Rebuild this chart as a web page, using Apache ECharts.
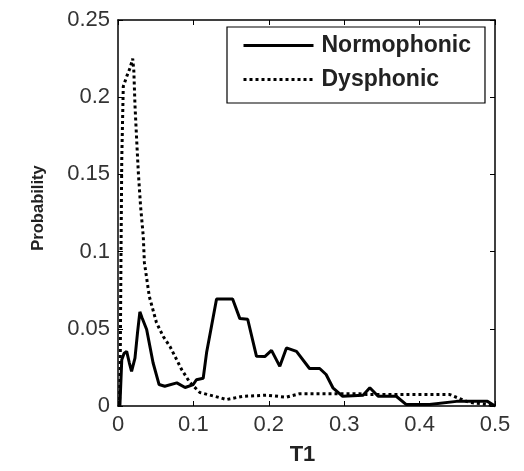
<!DOCTYPE html>
<html>
<head>
<meta charset="utf-8">
<script src="https://cdn.jsdelivr.net/npm/echarts@6/dist/echarts.min.js"></script>
<style>
html,body{margin:0;padding:0;background:#fff;}
#chart{width:524px;height:471px;}
</style>
</head>
<body>
<div id="chart"></div>
<script>
// T1 / Probability pairs
var normophonic = [
  [0.0025, 0.0], [0.005, 0.030], [0.008, 0.034], [0.0115, 0.0354], [0.015, 0.028],
  [0.018, 0.0225], [0.0225, 0.031], [0.026, 0.048], [0.029, 0.061], [0.032, 0.057],
  [0.038, 0.0495], [0.0465, 0.028], [0.0545, 0.0139], [0.062, 0.0128], [0.078, 0.015],
  [0.089, 0.012], [0.0998, 0.0139], [0.104, 0.017], [0.113, 0.018], [0.1175, 0.0346],
  [0.124, 0.0516], [0.1307, 0.0693], [0.152, 0.0693], [0.1616, 0.0566], [0.172, 0.0562],
  [0.1837, 0.0322], [0.1947, 0.032], [0.2036, 0.036], [0.2146, 0.0257], [0.2234, 0.0376],
  [0.2367, 0.0354], [0.254, 0.0243], [0.2675, 0.0243], [0.276, 0.0204], [0.285, 0.0118],
  [0.298, 0.0063], [0.325, 0.007], [0.334, 0.0118], [0.345, 0.0063], [0.369, 0.0063],
  [0.382, 0.001], [0.413, 0.001], [0.449, 0.003], [0.49, 0.003], [0.5, 0.0]
];
var dysphonic = [
  [0.002, 0.0], [0.003, 0.03], [0.004, 0.10], [0.005, 0.16], [0.007, 0.207],
  [0.012, 0.214], [0.016, 0.219], [0.0195, 0.225], [0.021, 0.217], [0.0225, 0.195],
  [0.025, 0.170], [0.027, 0.151], [0.030, 0.129], [0.0335, 0.110], [0.035, 0.093],
  [0.0415, 0.071], [0.051, 0.054], [0.060, 0.045], [0.069, 0.0385], [0.0844, 0.0236],
  [0.0954, 0.0152], [0.1086, 0.0087], [0.128, 0.0063], [0.144, 0.0042],
  [0.166, 0.0063], [0.197, 0.007], [0.223, 0.0057], [0.241, 0.008], [0.26, 0.008],
  [0.32, 0.008], [0.33, 0.0074], [0.44, 0.0074], [0.453, 0.0048], [0.466, 0.0023],
  [0.49, 0.001], [0.5, 0.0]
];
var seriesNames = ['Normophonic', 'Dysphonic'];
var xTitle = 'T1';
var yTitle = 'Probability';

var FONT = 'Liberation Sans, Arial, sans-serif';
var chart = echarts.init(document.getElementById('chart'), null, {renderer: 'canvas'});

function xAxisCfg(pos, showLabel) {
  return {
    type: 'value', min: 0, max: 0.5, interval: 0.1, position: pos,
    name: showLabel ? xTitle : '', nameLocation: 'middle', nameGap: 38,
    nameTextStyle: {fontFamily: FONT, fontSize: 22, fontWeight: 'bold', color: '#222', padding: [0, 8, 0, 0]},
    axisLine: {show: true, onZero: false, lineStyle: {color: '#000', width: 1.5}},
    axisTick: {show: true, inside: true, length: 5, lineStyle: {color: '#000', width: 1}},
    axisLabel: {show: showLabel, margin: 8, fontFamily: FONT, fontSize: 22, color: '#333'},
    splitLine: {show: false}
  };
}
function yAxisCfg(pos, showLabel) {
  return {
    type: 'value', min: 0, max: 0.25, interval: 0.05, position: pos,
    name: showLabel ? yTitle : '', nameLocation: 'middle', nameGap: 71, nameRotate: 90,
    nameTextStyle: {fontFamily: FONT, fontSize: 16.5, fontWeight: 'bold', color: '#222', padding: [0, 0, 0, 10]},
    axisLine: {show: true, onZero: false, lineStyle: {color: '#000', width: 1.5}},
    axisTick: {show: true, inside: true, length: 5, lineStyle: {color: '#000', width: 1}},
    axisLabel: {show: showLabel, margin: 8, fontFamily: FONT, fontSize: 22, color: '#333'},
    splitLine: {show: false}
  };
}

chart.setOption({
  animation: false,
  backgroundColor: '#fff',
  grid: {left: 118, right: 29, top: 20, bottom: 64.5, containLabel: false},
  legend: {
    data: seriesNames,
    orient: 'vertical',
    left: 227, top: 27,
    padding: [7, 14, 12, 15],
    itemWidth: 70, itemHeight: 14, itemGap: 11,
    borderColor: '#000', borderWidth: 1.2,
    backgroundColor: '#fff',
    itemStyle: {opacity: 0},
    lineStyle: {width: 3},
    textStyle: {fontFamily: FONT, fontSize: 23, fontWeight: 'bold', color: '#222', padding: [0, 0, 0, 3]}
  },
  xAxis: [xAxisCfg('bottom', true), xAxisCfg('top', false)],
  yAxis: [yAxisCfg('left', true), yAxisCfg('right', false)],
  series: [
    {
      name: seriesNames[0], type: 'line', data: normophonic, symbol: 'none',
      xAxisIndex: 0, yAxisIndex: 0,
      lineStyle: {color: '#000', width: 3, type: 'solid'},
      itemStyle: {color: '#000'}
    },
    {
      name: seriesNames[1], type: 'line', data: dysphonic, symbol: 'none',
      xAxisIndex: 0, yAxisIndex: 0,
      lineStyle: {color: '#000', width: 3, type: [3, 3]},
      itemStyle: {color: '#000'}
    }
  ]
});
</script>
</body>
</html>
